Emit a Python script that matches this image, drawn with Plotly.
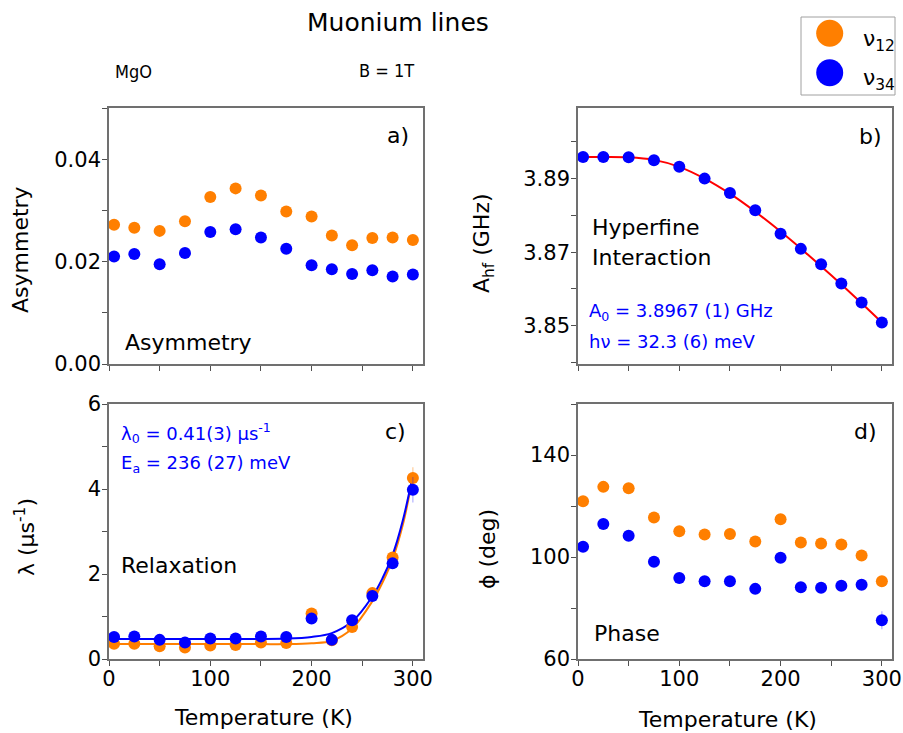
import plotly.graph_objects as go

W, H = 903, 733

# ---- data -------------------------------------------------------------
temps = [5, 25, 50, 75, 100, 125, 150, 175, 200, 220, 240, 260, 280, 300]

asym_12 = [0.0272, 0.0266, 0.0260, 0.0279, 0.0326, 0.0343, 0.0329, 0.0298,
           0.0288, 0.0251, 0.0232, 0.0246, 0.0247, 0.0242]
asym_34 = [0.0210, 0.0215, 0.0195, 0.0217, 0.0258, 0.0263, 0.0247, 0.0225,
           0.0193, 0.0185, 0.0176, 0.0183, 0.0171, 0.0175]

ahf_34 = [3.8959, 3.8959, 3.8958, 3.8950, 3.8932, 3.8900, 3.8861, 3.8814,
          3.8750, 3.8709, 3.8667, 3.8615, 3.8563, 3.8509]
ahf_fit_T = [2, 25, 50, 75, 100, 125, 150, 175, 200, 225, 250, 275, 300]
ahf_fit = [3.8959, 3.8959, 3.8958, 3.8951, 3.8932, 3.8900, 3.8859, 3.8810,
           3.8756, 3.8698, 3.8637, 3.8574, 3.8509]

lam_12 = [0.36, 0.36, 0.30, 0.27, 0.32, 0.33, 0.39, 0.375, 1.07, 0.44,
          0.75, 1.55, 2.39, 4.26]
lam_34 = [0.52, 0.53, 0.45, 0.39, 0.48, 0.48, 0.53, 0.52, 0.95, 0.45,
          0.91, 1.48, 2.25, 3.98]
lam_12_err = [0, 0, 0, 0, 0, 0, 0, 0, 0, 0, 0, 0, 0.05, 0.25]
lam_34_err = [0, 0, 0, 0, 0, 0, 0, 0, 0, 0, 0, 0, 0.05, 0.30]

lam_fit_T = [0, 50, 100, 150, 175, 200, 220, 240, 260, 270, 280, 290, 300]
lam_fit_12 = [0.35, 0.35, 0.35, 0.35, 0.35, 0.37, 0.43, 0.72, 1.36, 1.80,
              2.35, 3.15, 4.29]
lam_fit_34 = [0.47, 0.47, 0.47, 0.47, 0.48, 0.52, 0.61, 0.88, 1.47, 1.90,
              2.45, 3.25, 4.33]

phase_12 = [121.9, 127.5, 127.0, 115.5, 110.1, 108.8, 109.0, 106.1, 114.8,
            105.7, 105.3, 104.9, 100.6, 90.5]
phase_34 = [104.0, 112.9, 108.3, 98.1, 91.8, 90.5, 90.5, 87.5, 99.7, 88.1,
            87.9, 88.7, 89.1, 75.2]
phase_34_err = [0, 0, 0, 0, 0, 0, 0, 0, 0, 0, 0, 0, 0, 3.5]

x_range = [0, 310]

# ---- styles -----------------------------------------------------------
ORANGE = "#FF7F00"
BLUE = "#0000FF"
FRAME = "#707070"
TICK = "#505050"
FONT = "DejaVu Sans"
NARROW = "DejaVu Sans Condensed, DejaVu Sans"
MS = 12


def px(x):
    return x / W


def py(y):
    return 1 - y / H


# panel domains in figure pixels: left, right, top, bottom
dom = {
    1: (109, 423, 108, 364),
    2: (578, 892, 108, 364),
    3: (109, 423, 404, 659),
    4: (578, 892, 404, 659),
}

fig = go.Figure()


def sid(i, base):
    return base if i == 1 else f"{base}{i}"


def add_pts(i, y, color, err=None):
    fig.add_trace(go.Scatter(
        x=temps, y=y, mode="markers",
        marker=dict(color=color, size=MS, line=dict(width=0)),
        error_y=(dict(type="data", array=err, visible=True, thickness=1.2,
                      width=0, color=("rgba(0,0,255,0.3)" if color == BLUE
                                      else "rgba(255,127,0,0.4)"))
                 if err is not None else None),
        xaxis=sid(i, "x"), yaxis=sid(i, "y"), showlegend=False,
        hoverinfo="skip"))


def add_line(i, x, y, color):
    fig.add_trace(go.Scatter(
        x=x, y=y, mode="lines", line=dict(color=color, width=2,
                                            shape="spline", smoothing=1.0),
        xaxis=sid(i, "x"), yaxis=sid(i, "y"), showlegend=False,
        hoverinfo="skip"))


# a) asymmetry
add_pts(1, asym_12, ORANGE)
add_pts(1, asym_34, BLUE)
# b) hyperfine
add_line(2, ahf_fit_T, ahf_fit, "#FF0000")
add_pts(2, ahf_34, BLUE)
# c) relaxation
add_line(3, lam_fit_T, lam_fit_12, ORANGE)
add_line(3, lam_fit_T, lam_fit_34, BLUE)
add_pts(3, lam_12, ORANGE, lam_12_err)
add_pts(3, lam_34, BLUE, lam_34_err)
# d) phase
add_pts(4, phase_12, ORANGE)
add_pts(4, phase_34, BLUE, phase_34_err)

yspec = {
    1: dict(range=[0, 0.05], tick0=0, dtick=0.02, minor=0.01, fmt=".2f"),
    2: dict(range=[3.8396, 3.9092], tick0=3.85, dtick=0.02, minor=0.01,
            fmt=".2f"),
    3: dict(range=[0, 6], tick0=0, dtick=2, minor=1, fmt="d"),
    4: dict(range=[60, 160], tick0=60, dtick=40, minor=20, fmt="d"),
}

layout = {}
for i in range(1, 5):
    l, r, t, b = dom[i]
    xd = [px(l), px(r)]
    yd = [py(b), py(t)]
    ys = yspec[i]
    common = dict(showgrid=False, zeroline=False, tickcolor=TICK,
                  ticklen=5, tickwidth=1.2, automargin=False,
                  tickfont=dict(family=FONT, size=21, color="#000"))
    xname = "xaxis" if i == 1 else f"xaxis{i}"
    yname = "yaxis" if i == 1 else f"yaxis{i}"
    layout[xname] = dict(
        domain=xd, range=x_range, anchor=sid(i, "y"),
        showline=True, mirror=True, linecolor=FRAME, linewidth=1.6,
        ticks="outside", tick0=0, dtick=100, ticklabelstandoff=-5,
        minor=dict(ticks="outside", tick0=0, dtick=50, ticklen=5,
                   tickcolor=TICK, tickwidth=1.2, showgrid=False),
        showticklabels=(i >= 3), **common)
    layout[yname] = dict(
        domain=yd, range=ys["range"], anchor=sid(i, "x"),
        showline=True, mirror=True, linecolor=FRAME, linewidth=1.6,
        ticks="outside", tick0=ys["tick0"], dtick=ys["dtick"],
        tickformat=ys["fmt"], ticklabelstandoff=-3,
        minor=dict(ticks="outside", tick0=ys["tick0"], dtick=ys["minor"],
                   ticklen=5, tickcolor=TICK, tickwidth=1.2, showgrid=False),
        **common)
    # inward ticks on the top and right edges of the frame
    layout[f"xaxis{i + 4}"] = dict(
        overlaying=sid(i, "x"), anchor=sid(i, "y"), side="top",
        range=x_range, ticks="inside", tick0=0, dtick=100,
        minor=dict(ticks="inside", tick0=0, dtick=50, ticklen=5,
                   tickcolor=TICK, tickwidth=1.2, showgrid=False),
        showticklabels=False, showline=False, **common)
    layout[f"yaxis{i + 4}"] = dict(
        overlaying=sid(i, "y"), anchor=sid(i, "x"), side="right",
        range=ys["range"], ticks="inside", tick0=ys["tick0"],
        dtick=ys["dtick"],
        minor=dict(ticks="inside", tick0=ys["tick0"], dtick=ys["minor"],
                   ticklen=5, tickcolor=TICK, tickwidth=1.2, showgrid=False),
        showticklabels=False, showline=False, **common)

fig.update_layout(**layout)


def ann(text, x, y, size=22, color="#000", xanchor="left", angle=0,
        family=FONT):
    fig.add_annotation(text=text, x=px(x), y=py(y), xref="paper",
                       yref="paper", showarrow=False, xanchor=xanchor,
                       yanchor="middle", textangle=angle,
                       font=dict(family=family, size=size, color=color))


# titles
ann("Muonium lines", 398, 22, size=25, xanchor="center")
ann("MgO", 113, 72, size=18, family=NARROW)
ann("B = 1T", 357, 70, size=18, family=NARROW)

# panel letters and labels
ann("a)", 411, 135, xanchor="right")
ann("b)", 884, 136, xanchor="right")
ann("c)", 408, 432, xanchor="right")
ann("d)", 879, 432, xanchor="right")
ann("Asymmetry", 123, 342)
ann("Hyperfine", 590, 228)
ann("Interaction", 590, 257)
ann("Relaxation", 119, 565)
ann("Phase", 592, 633)

# fit parameters
ann("A<sub>0</sub> = 3.8967 (1) GHz", 587, 312, size=18, color=BLUE)
ann("h\u03bd = 32.3 (6) meV", 587, 341, size=18, color=BLUE)
ann("\u03bb<sub>0</sub> = 0.41(3) \u03bcs<sup>-1</sup>", 119, 433, size=18,
    color=BLUE)
ann("E<sub>a</sub> = 236 (27) meV", 119, 464, size=18, color=BLUE)

# axis titles
ann("Asymmetry", 20, 250, xanchor="center", angle=-90)
ann("A<sub>hf</sub> (GHz)", 483, 243, xanchor="center", angle=-90)
ann("\u03bb (\u03bcs<sup>-1</sup>)", 25, 537, xanchor="center", angle=-90)
ann("\u03d5 (deg)", 487, 549, xanchor="center", angle=-90)
ann("Temperature (K)", 263, 717, xanchor="center")
ann("Temperature (K)", 727, 719, xanchor="center")

# legend box
fig.add_shape(type="rect", xref="paper", yref="paper",
              x0=px(801), x1=px(895), y0=py(95), y1=py(17),
              line=dict(color="#A0A0A0", width=1), fillcolor="white")
for cy, col in ((33.3, ORANGE), (72.7, BLUE)):
    fig.add_shape(type="circle", xref="paper", yref="paper",
                  x0=px(829.7 - 13.5), x1=px(829.7 + 13.5),
                  y0=py(cy + 13.5), y1=py(cy - 13.5),
                  line=dict(width=0), fillcolor=col)
ann("\u03bd<sub>12</sub>", 861, 40, size=22)
ann("\u03bd<sub>34</sub>", 861, 79, size=22)

fig.update_layout(width=W, height=H, margin=dict(l=0, r=0, t=0, b=0),
                  plot_bgcolor="white", paper_bgcolor="white",
                  showlegend=False)

fig.write_html("out.html")
